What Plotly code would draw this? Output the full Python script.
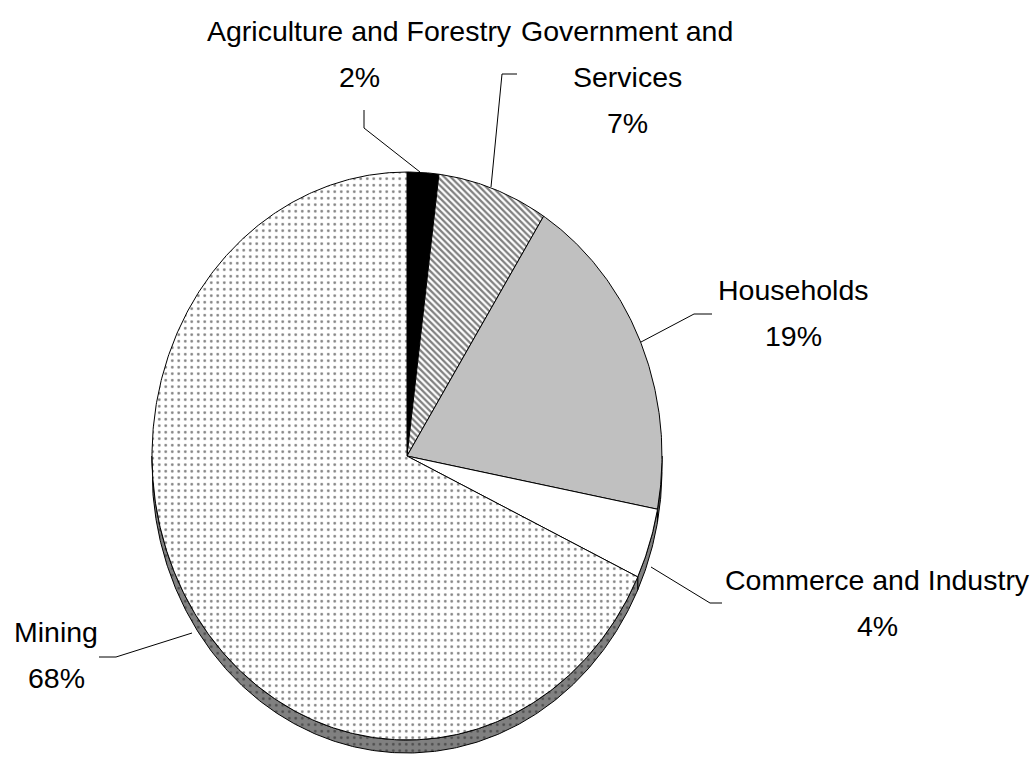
import numpy as np
import plotly.graph_objects as go

# ---- data ----
categories = ["Agriculture and Forestry", "Government and Services", "Households",
              "Commerce and Industry", "Mining"]
label_lines = [["Agriculture and Forestry"], ["Government and", "Services"], ["Households"],
               ["Commerce and Industry"], ["Mining"]]
shares = [2, 7, 19, 4, 68]

# ---- geometry / style ----
CX, CY, RX, RY, DEPTH = 407, 456, 255, 284, 13
FONT = dict(family="Liberation Sans, Arial", size=28.5, color="black")

face_styles = [
    dict(fillcolor="black"),
    dict(fillcolor="white", fillpattern=dict(shape="\\", fgcolor="black", bgcolor="white", size=4.5, solidity=0.5)),
    dict(fillcolor="#c0c0c0"),
    dict(fillcolor="white"),
    dict(fillcolor="white", fillpattern=dict(shape=".", fgcolor="#000000", bgcolor="white", size=6.5, solidity=0.14)),
]
side_styles = [
    dict(fillcolor="#202020"),
    dict(fillcolor="#404040"),
    dict(fillcolor="#5a5a5a"),
    dict(fillcolor="#808080"),
    dict(fillcolor="#808080", fillpattern=dict(shape=".", fgcolor="#1a1a1a", bgcolor="#808080", size=6.5, solidity=0.14)),
]


def arc(a0, a1, dy=0.0):
    n = max(2, int(abs(a1 - a0) / 0.5) + 1)
    t = np.radians(np.linspace(a0, a1, n))
    return CX + RX * np.sin(t), CY - RY * np.cos(t) + dy


fig = go.Figure()
total = float(sum(shares))
bounds = np.concatenate([[0.0], np.cumsum(shares) / total * 360.0])

# sides (visible on lower half of the tilted disk)
for i in range(len(shares)):
    s, e = max(bounds[i], 90.0), min(bounds[i + 1], 270.0)
    if e <= s:
        continue
    xt, yt = arc(s, e)
    xb, yb = arc(e, s, DEPTH)
    xs = np.concatenate([xt, xb, xt[:1]])
    ys = np.concatenate([yt, yb, yt[:1]])
    fig.add_trace(go.Scatter(x=xs, y=ys, mode="lines", fill="toself",
                             line=dict(color="black", width=1), hoverinfo="skip",
                             **side_styles[i]))

# top faces
for i in range(len(shares)):
    xa, ya = arc(bounds[i], bounds[i + 1])
    xs = np.concatenate([[CX], xa, [CX]])
    ys = np.concatenate([[CY], ya, [CY]])
    fig.add_trace(go.Scatter(x=xs, y=ys, mode="lines", fill="toself",
                             line=dict(color="black", width=1),
                             name=categories[i], hoverinfo="name",
                             **face_styles[i]))

# labels (name lines + percentage)
label_pos = [(359, 31), (627, 31), (793, 290), (877, 580), (56, 632)]
LINE_H = 46
annotations = []
for i, lines in enumerate(label_lines):
    x0, y0 = label_pos[i]
    for j, txt in enumerate(lines + [f"{shares[i]}%"]):
        annotations.append(dict(x=x0, y=y0 + j * LINE_H, xref="x", yref="y", text=txt,
                                showarrow=False, font=FONT, xanchor="center", yanchor="middle"))

leaders = [
    [(420, 172), (364, 128), (364, 110)],
    [(491, 187), (502, 74), (517, 74)],
    [(641, 342), (694, 314), (712, 314)],
    [(651, 567), (710, 603), (722, 603)],
    [(192, 633), (116, 657), (99, 657)],
]
shapes = []
for pts in leaders:
    path = "M " + " L ".join(f"{x},{y}" for x, y in pts)
    shapes.append(dict(type="path", path=path, xref="x", yref="y",
                       line=dict(color="black", width=1)))

fig.update_layout(
    width=1034, height=762,
    margin=dict(l=0, r=0, t=0, b=0),
    paper_bgcolor="white", plot_bgcolor="white",
    showlegend=False,
    xaxis=dict(range=[0, 1034], visible=False, fixedrange=True),
    yaxis=dict(range=[762, 0], visible=False, fixedrange=True),
    annotations=annotations, shapes=shapes,
)

fig.write_html("out.html")
